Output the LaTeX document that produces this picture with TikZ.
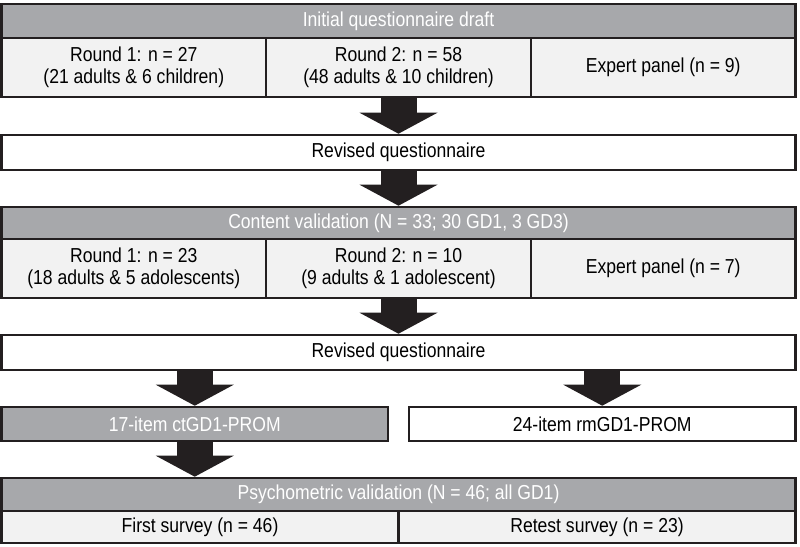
\documentclass[tikz,border=0pt]{standalone}
\usepackage{fontspec}
\setmainfont[FakeStretch=0.87]{Liberation Sans}
\usetikzlibrary{arrows.meta}
\definecolor{ink}{HTML}{231F20}
\definecolor{headgrey}{HTML}{A7A8AB}
\definecolor{cellgrey}{HTML}{F2F2F2}

\begin{document}
\begin{tikzpicture}[x=1pt,y=-1pt,
  box/.style={draw=ink, line width=2.6pt, inner sep=0pt, align=center,
    font=\fontsize{20.2}{22.5}\selectfont},
  head/.style={box, fill=headgrey, text=white},
  cell/.style={box, fill=cellgrey},
  whitebox/.style={box, fill=white},
  fat/.style={draw=ink, line width=36pt,
    -{Triangle[width=78pt 0 0, length=21pt 0 0, line width=0pt 0 0]}}]
  \useasboundingbox (0,0) rectangle (800,546);
  \node[head, minimum width=794pt, minimum height=34pt] (draft) at (398.5,21) {Initial questionnaire draft};
  \node[cell, minimum width=264.7pt, minimum height=59pt] (r1a) at (133.8,67.5) {Round 1: n = 27\\(21 adults \& 6 children)};
  \node[cell, minimum width=264.7pt, minimum height=59pt] (r1b) at (398.5,67.5) {Round 2: n = 58\\(48 adults \& 10 children)};
  \node[cell, minimum width=264.7pt, minimum height=59pt] (r1c) at (663.2,67.5) {Expert panel (n = 9)};
  \node[whitebox, minimum width=794pt, minimum height=35pt] (rev1) at (398.5,152.5) {Revised questionnaire};
  \node[head, minimum width=794pt, minimum height=32pt] (content) at (398.5,223) {Content validation (N = 33; 30 GD1, 3 GD3)};
  \node[cell, minimum width=264.7pt, minimum height=59pt] (r2a) at (133.8,268.5) {Round 1: n = 23\\(18 adults \& 5 adolescents)};
  \node[cell, minimum width=264.7pt, minimum height=59pt] (r2b) at (398.5,268.5) {Round 2: n = 10\\(9 adults \& 1 adolescent)};
  \node[cell, minimum width=264.7pt, minimum height=59pt] (r2c) at (663.2,268.5) {Expert panel (n = 7)};
  \node[whitebox, minimum width=794pt, minimum height=35pt] (rev2) at (398.5,352.5) {Revised questionnaire};
  \node[head, minimum width=386.5pt, minimum height=34pt] (ct) at (194.75,424) {17-item ctGD1-PROM};
  \node[whitebox, minimum width=386.5pt, minimum height=34pt] (rm) at (602.25,424) {24-item rmGD1-PROM};
  \node[head, minimum width=794pt, minimum height=33pt] (psycho) at (398.5,494.5) {Psychometric validation (N = 46; all GD1)};
  \node[cell, minimum width=397pt, minimum height=32pt] (first) at (200,527) {First survey (n = 46)};
  \node[cell, minimum width=397pt, minimum height=32pt] (retest) at (597,527) {Retest survey (n = 23)};
  \draw[fat] (r1b.south) -- (rev1.north);
  \draw[fat] (rev1.south) -- (content.north);
  \draw[fat] (r2b.south) -- (rev2.north);
  \draw[fat] (rev2.south -| ct.north) -- (ct.north);
  \draw[fat] (rev2.south -| rm.north) -- (rm.north);
  \draw[fat] (ct.south) -- (ct.south |- psycho.north);
\end{tikzpicture}
\end{document}
